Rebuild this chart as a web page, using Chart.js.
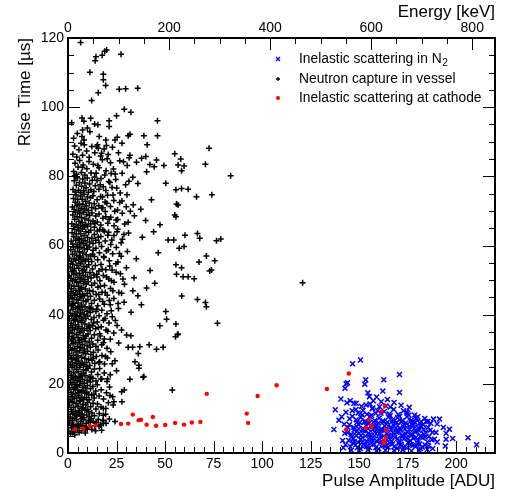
<!DOCTYPE html>
<html>
<head>
<meta charset="utf-8">
<script src="https://cdn.jsdelivr.net/npm/chart.js@4"></script>
<style>
  body { margin: 0; background: #fff; }
</style>
</head>
<body>
<canvas id="myChart" width="510" height="490"></canvas>
<script>
// axis ranges and tick labels
var xTicks = [0, 25, 50, 75, 100, 125, 150, 175, 200]
var yTicks = [0, 20, 40, 60, 80, 100, 120]
var energyTicks = [0, 200, 400, 600, 800]
var xMax = 220
var yMax = 120
var energyMax = 845   // keV at the right edge (about 3.84 keV / ADU)

// [pulse amplitude ADU, rise time us]
var cathode = [
  [3.6,6.9],[7.9,7.0],[11.0,7.8],[14.4,8.0],[27.3,8.4],[31.0,8.5],[33.4,11.1],[36.4,9.5],[37.6,9.6],
  [40.5,8.2],[43.7,10.4],[45.4,7.9],[50.1,8.1],[55.2,8.7],[59.8,8.2],[63.8,8.8],[68.2,9.0],[71.5,17.1],
  [92.1,11.4],[92.8,8.7],[97.7,16.5],[107.5,19.6],[133.4,18.5],[144.7,23.0],[143.3,6.8],[155.0,9.6],
  [153.5,7.2],[156.2,7.9],[156.5,7.6],[161.5,12.0],[163.2,13.7],[163.9,6.6],[163.7,4.6],[162.6,3.5],[162.7,2.8]
]

var inelasticN2 = [
  [145.5,1.8],[148.2,2.4],[150.6,1.3],[152.9,2.1],[155.3,1.6],[157.8,2.5],[160.1,1.2],[162.4,2.2],[164.9,1.7],
  [167.2,2.6],[169.6,1.4],[171.9,2.0],[174.4,1.5],[176.8,2.4],[179.1,1.9],[181.5,1.3],[184.0,2.3],
  [144.6,3.6],[147.0,4.2],[149.4,3.1],[151.7,4.4],[154.1,3.3],[156.5,4.0],[158.9,3.5],[161.2,4.5],[163.6,3.2],
  [166.0,3.9],[168.4,4.6],[170.7,3.4],[173.1,4.1],[175.5,3.0],[177.9,4.3],[180.3,3.7],[182.6,4.4],[185.2,3.2],[187.5,3.8],
  [145.9,5.4],[148.6,6.1],[150.9,5.0],[153.3,6.4],[155.6,5.3],[158.0,6.0],[160.4,5.6],[162.8,6.5],[165.1,5.1],
  [167.5,5.8],[169.9,6.3],[172.3,5.2],[174.7,6.1],[177.0,5.5],[179.4,6.4],[181.8,5.0],[184.3,5.9],[186.6,6.6],
  [147.3,7.4],[149.7,8.2],[152.1,7.1],[154.5,8.5],[156.8,7.6],[159.2,8.1],[161.6,7.0],[164.0,8.3],[166.3,7.5],
  [168.7,8.6],[171.1,7.2],[173.5,8.0],[175.9,7.7],[178.2,8.4],[180.6,7.3],[183.0,8.2],
  [148.5,9.6],[150.9,10.3],[153.2,9.2],[155.6,10.6],[158.0,9.4],[160.3,10.1],[162.7,9.0],[165.1,10.4],[167.4,9.7],
  [169.8,10.2],[172.2,9.3],[174.6,10.5],[177.0,9.5],[179.4,10.0],[181.9,9.1],
  [146.8,2.9],[149.1,1.6],[151.5,3.0],[153.8,1.9],[156.2,2.8],[158.6,1.5],[161.0,3.0],[163.4,2.0],[165.7,2.9],
  [168.1,1.8],[170.5,2.8],[172.9,1.6],[175.3,3.0],[177.7,2.2],[180.1,2.9],[182.5,1.7],[185.1,1.0],
  [146.1,4.7],[148.5,5.0],[150.8,4.0],[153.2,4.9],[155.5,4.5],[157.9,5.0],[160.3,4.1],[162.7,4.9],[165.0,4.4],
  [167.4,5.0],[169.8,4.2],[172.2,4.8],[174.6,4.3],[176.9,5.0],[179.3,4.5],[181.7,4.8],[184.0,4.6],
  [147.4,6.7],[149.8,7.0],[152.2,6.5],[154.6,7.0],[157.0,6.8],[159.3,7.2],[161.7,6.6],[164.1,7.1],[166.5,6.7],
  [168.9,7.2],[171.2,6.6],[173.6,7.0],[176.0,6.8],[178.4,7.1],[180.8,6.5],[183.2,6.8],[185.5,7.4],
  [150.3,8.8],[152.7,9.0],[155.1,8.6],[157.5,8.9],[159.9,8.7],[162.2,9.3],[164.6,8.9],[167.0,9.1],[169.4,8.8],
  [171.7,9.0],[174.1,8.7],[176.5,9.2],[178.9,8.8],[181.3,8.6],
  [146.0,0.8],[150.0,0.7],[154.5,0.9],[159.0,0.6],[163.5,0.8],[168.0,0.7],[172.5,0.9],[177.0,0.6],[181.0,0.8],
  [147.5,3.3],[152.3,2.6],[157.1,3.6],[162.0,2.7],[166.8,3.4],[171.6,2.5],[176.4,3.5],[181.2,2.6],
  [150.0,5.8],[154.9,5.7],[159.7,6.3],[164.5,5.6],[169.3,6.0],[174.1,5.5],[178.9,6.0],[183.5,5.4],
  [148.8,8.8],[153.6,7.8],[158.4,7.5],[163.2,7.8],[168.0,7.9],[172.8,7.6],[177.6,8.0],[182.0,7.7],
  [151.6,11.0],[156.4,10.9],[161.2,11.5],[166.0,10.8],[170.8,10.6],[175.6,10.9],[180.2,10.5],
  [146.5,10.6],[145.0,8.2],[144.0,5.9],[186.0,4.8],[187.8,6.0],[183.8,10.0],[157.0,13.0],[163.8,13.6],[159.5,12.3],
  [149.5,11.6],[152.0,12.3],[154.0,11.2],[156.8,12.8],[158.6,11.5],[160.5,13.4],[163.0,12.0],[165.5,11.3],
  [167.8,12.6],[170.2,11.1],[172.8,12.2],[175.0,11.5],[178.5,11.0],[151.2,13.5],[155.6,14.2],[161.4,14.8],
  [166.1,13.3],[148.3,12.6],[157.3,15.1],[153.6,13.9],
  [143.7,14.5],[145.4,15.1],[147.3,14.4],[148.5,14.4],[140.6,15.6],[137.7,12.5],[137.0,6.8],[139.6,9.5],
  [141.0,10.5],[142.3,8.3],[143.2,11.8],[141.5,3.6],[142.6,5.7],[143.0,2.4],[144.2,7.4],[145.1,9.9],[146.4,12.2],[141.9,1.5],
  [150.7,26.9],[146.6,25.8],[144.0,20.3],[143.3,20.0],[142.7,18.7],[170.8,22.7],[153.4,21.2],[152.9,19.9],
  [162.7,21.2],[162.2,17.9],[170.8,17.5],[171.6,13.8],[154.5,17.4],[155.3,16.3],[164.6,15.5],[174.5,11.9],
  [179.5,9.8],[184.5,9.1],[185.4,9.1],[188.3,9.8],[191.4,9.8],[193.4,7.4],[196.5,6.9],[194.8,5.7],[194.8,4.0],
  [198.2,4.2],[206.1,4.4],[210.5,2.4],[194.4,2.0],[185.7,2.0],[188.8,4.0],[168.0,14.6],[159.0,16.2],[175.8,13.2],
  [186.9,8.6],[189.6,5.9],[190.2,8.4],[190.2,3.2],[187.9,1.3]
]

var neutronCapture = [
  // 5-10 us
  [0.4,6.3],[0.9,8.7],[1.3,5.6],[1.7,7.4],[2.2,9.3],[2.6,6.1],[3.0,8.2],[3.5,5.3],[3.9,7.0],[4.3,9.6],
  [4.8,6.6],[5.2,8.4],[5.7,5.9],[6.1,7.7],[6.6,9.1],[7.0,6.4],[7.5,8.0],[8.0,9.7],[8.4,7.1],[8.9,5.8],
  [9.4,8.6],[9.9,6.9],[10.5,9.4],[11.0,7.6],[11.6,8.9],[12.3,6.8],[13.0,9.2],[13.8,7.9],[14.7,8.8],[15.6,9.7],
  [16.8,8.1],[18.1,9.5],[19.6,8.6],[21.3,9.8],[0.2,9.8],[2.4,7.9],[4.6,7.3],[6.9,9.9],[9.2,7.4],[11.9,9.9],
  [18.2,9.3],[18.2,8.5],[24.2,9.1],[17.3,6.6],[14.2,6.4],[16.0,7.7],
  // 10-15
  [0.3,11.2],[0.8,13.8],[1.2,10.4],[1.6,12.6],[2.1,14.7],[2.5,11.5],[2.9,13.2],[3.3,10.1],[3.8,12.1],[4.2,14.3],
  [4.6,10.9],[5.1,13.5],[5.5,11.8],[6.0,14.9],[6.4,10.6],[6.9,12.9],[7.3,11.3],[7.8,14.1],[8.2,10.2],[8.7,12.4],
  [9.1,13.9],[9.6,11.0],[10.1,14.6],[10.6,12.0],[11.1,10.5],[11.7,13.4],[12.3,11.6],[12.9,14.4],[13.6,10.8],[14.4,12.7],
  [15.2,14.2],[16.1,11.4],[17.0,13.3],[18.2,10.9],[19.5,12.9],[20.8,14.5],[23.7,14.8],[23.3,13.9],[18.2,12.9],[27.8,14.8],
  [1.9,11.9],[4.0,11.1],[5.8,12.3],[7.6,13.0],[9.9,12.6],[19.4,11.2],
  // 15-20
  [0.2,16.4],[0.7,18.9],[1.1,15.3],[1.5,17.6],[2.0,19.8],[2.4,16.2],[2.8,18.4],[3.2,15.7],[3.7,17.1],[4.1,19.3],
  [4.5,15.9],[5.0,18.2],[5.4,16.6],[5.9,19.6],[6.3,15.2],[6.8,17.8],[7.2,16.1],[7.7,19.0],[8.1,15.5],[8.6,17.3],
  [9.0,18.8],[9.5,16.0],[10.0,19.5],[10.5,17.0],[11.0,15.4],[11.6,18.6],[12.2,16.8],[12.8,19.2],[13.5,15.9],[14.3,17.9],
  [15.1,19.7],[16.0,16.5],[17.1,18.3],[18.3,15.6],[19.8,17.4],[21.4,19.1],[27.6,17.7],[29.0,18.2],[23.0,16.3],
  [1.8,17.0],[3.5,18.9],[5.6,17.5],[7.9,18.1],[9.7,17.6],[53.7,18.2],[21.6,16.6],[13.4,16.9],
  // 20-25
  [0.3,21.1],[0.8,23.6],[1.2,20.4],[1.7,22.5],[2.1,24.7],[2.6,21.4],[3.0,23.2],[3.4,20.3],[3.9,22.1],[4.3,24.2],
  [4.8,20.9],[5.2,23.5],[5.7,21.8],[6.1,24.8],[6.6,20.6],[7.0,22.9],[7.5,21.3],[7.9,24.1],[8.4,20.2],[8.8,22.4],
  [9.3,23.9],[9.8,21.0],[10.3,24.5],[10.9,22.0],[11.5,20.5],[12.1,23.4],[12.8,21.6],[13.6,24.3],[14.4,20.8],[15.3,22.7],
  [16.3,24.4],[17.4,21.5],[18.7,23.1],[20.1,20.7],[21.8,22.6],[31.9,21.3],[38.7,21.9],[39.1,22.1],[25.0,23.8],
  [1.9,21.9],[4.1,21.6],[6.3,22.2],[8.1,23.0],[11.8,21.9],[16.9,21.4],[20.4,21.4],
  // 25-30
  [0.2,26.3],[0.7,28.8],[1.1,25.5],[1.5,27.6],[2.0,29.7],[2.4,26.1],[2.9,28.3],[3.3,25.2],[3.7,27.0],[4.2,29.2],
  [4.6,25.8],[5.1,28.1],[5.5,26.6],[6.0,29.6],[6.4,25.4],[6.9,27.7],[7.3,26.0],[7.8,29.0],[8.2,25.6],[8.7,27.3],
  [9.1,28.7],[9.6,26.2],[10.1,29.4],[10.6,27.1],[11.2,25.3],[11.8,28.5],[12.4,26.8],[13.1,29.1],[13.8,25.9],[14.6,27.9],
  [15.5,29.8],[16.4,26.4],[17.5,28.2],[18.8,25.7],[20.3,27.5],[22.0,29.3],[24.2,26.7],[36.5,25.4],[36.5,24.5],[34.5,26.4],
  [36.2,28.8],[1.8,27.2],[4.4,27.5],[9.4,25.1],[12.9,27.4],[22.8,25.8],[19.3,27.9],[15.9,26.2],
  // 30-35
  [0.3,31.2],[0.8,33.7],[1.2,30.5],[1.7,32.4],[2.1,34.6],[2.6,31.6],[3.0,33.3],[3.4,30.2],[3.9,32.0],[4.3,34.3],
  [4.8,30.8],[5.2,33.4],[5.7,31.9],[6.1,34.8],[6.6,30.4],[7.0,32.8],[7.5,31.4],[7.9,34.0],[8.4,30.1],[8.8,32.3],
  [9.3,33.8],[9.8,31.0],[10.3,34.4],[10.9,32.1],[11.5,30.6],[12.1,33.2],[12.8,31.5],[13.6,34.2],[14.4,30.9],[15.3,32.6],
  [16.3,34.5],[17.4,31.3],[18.7,33.0],[20.1,30.3],[21.8,32.9],[23.6,34.7],[31.0,30.6],[33.3,30.6],[37.0,30.7],[41.8,31.3],
  [45.6,30.0],[49.0,30.6],[32.4,33.9],[30.2,34.1],[55.4,33.6],[56.4,34.2],[26.1,31.8],[2.3,32.9],[5.9,32.5],[8.6,33.1],
  [18.2,31.9],
  // 35-40
  [0.2,36.3],[0.7,38.8],[1.1,35.4],[1.6,37.5],[2.0,39.6],[2.5,36.2],[2.9,38.3],[3.3,35.7],[3.8,37.1],[4.2,39.3],
  [4.7,35.9],[5.1,38.2],[5.6,36.6],[6.0,39.5],[6.5,35.3],[6.9,37.8],[7.4,36.1],[7.8,39.0],[8.3,35.5],[8.7,37.3],
  [9.2,38.9],[9.7,36.0],[10.2,39.6],[10.8,37.0],[11.4,35.4],[12.0,38.6],[12.7,36.8],[13.4,39.2],[14.2,35.9],[15.1,37.9],
  [16.0,39.7],[17.1,36.5],[18.3,38.4],[19.6,35.6],[21.1,37.6],[22.8,39.4],[25.3,36.9],[27.6,35.6],[55.6,37.3],[50.8,38.7],
  [47.3,36.8],[56.7,34.4],[77.0,37.5],[1.4,36.9],[3.6,38.6],[7.1,38.4],[11.1,36.4],
  [13.2,37.6],[16.6,33.8],[19.1,38.9],[20.5,35.2],[24.4,38.3],[15.7,36.3],
  // 40-45
  [0.3,41.2],[0.8,43.7],[1.2,40.4],[1.7,42.5],[2.1,44.6],[2.6,41.5],[3.0,43.3],[3.4,40.2],[3.9,42.0],[4.3,44.3],
  [4.8,40.8],[5.2,43.4],[5.7,41.9],[6.1,44.8],[6.6,40.5],[7.0,42.8],[7.5,41.4],[7.9,44.0],[8.4,40.1],[8.8,42.3],
  [9.3,43.8],[9.8,41.0],[10.3,44.4],[10.9,42.1],[11.5,40.6],[12.1,43.2],[12.8,41.5],[13.6,44.2],[14.4,40.9],[15.3,42.6],
  [16.3,44.5],[17.4,41.3],[18.7,43.0],[20.1,40.3],[21.8,42.9],[23.6,44.7],[26.0,41.8],[28.9,43.6],[32.5,40.7],[50.4,40.9],
  [66.7,44.4],[70.8,43.5],[71.3,42.3],[58.6,45.4],[37.8,42.9],[2.3,42.9],[5.4,42.3],[11.7,41.8],
  [14.8,41.6],[17.9,43.8],[22.3,41.1],[21.3,44.1],[25.8,43.2],
  // 45-50
  [0.4,46.1],[0.9,48.6],[1.3,45.4],[1.8,47.5],[2.2,49.7],[2.7,46.3],[3.1,48.2],[3.5,45.6],[4.0,47.0],[4.4,49.3],
  [4.9,45.9],[5.3,48.3],[5.8,46.7],[6.2,49.6],[6.7,45.2],[7.1,47.8],[7.6,46.0],[8.0,49.0],[8.5,45.5],[8.9,47.4],
  [9.4,48.9],[9.9,46.1],[10.4,49.5],[11.0,47.0],[11.6,45.3],[12.2,48.5],[12.9,46.7],[13.7,49.1],[14.5,45.8],[15.4,47.9],
  [16.4,49.8],[17.5,46.5],[18.8,48.4],[20.2,45.6],[21.9,47.6],[23.7,49.4],[26.2,46.4],[29.1,48.8],[33.4,46.9],[40.5,47.7],
  [44.7,49.1],[36.0,45.5],[1.6,46.6],[6.4,47.3],[120.9,49.2],
  [16.7,48.2],[23.1,46.9],[22.4,49.8],[28.3,50.3],[15.9,45.8],[19.2,46.4],[27.6,46.2],
  // 50-55
  [0.6,51.2],[1.1,53.7],[1.5,50.5],[2.0,52.4],[2.4,54.6],[2.9,51.6],[3.3,53.3],[3.7,50.2],[4.2,52.0],[4.6,54.3],
  [5.1,50.8],[5.5,53.4],[6.0,51.9],[6.4,54.8],[6.9,50.4],[7.3,52.8],[7.8,51.4],[8.2,54.0],[8.7,50.1],[9.1,52.3],
  [9.6,53.8],[10.1,51.0],[10.7,54.4],[11.3,52.1],[11.9,50.6],[12.6,53.2],[13.3,51.5],[14.1,54.2],[15.0,50.9],[15.9,52.6],
  [17.0,54.5],[18.2,51.3],[19.5,53.0],[21.0,50.3],[22.7,52.9],[24.6,54.7],[27.0,51.8],[30.1,53.6],[34.0,50.7],[55.6,54.4],
  [58.5,53.6],[55.9,51.7],[61.9,51.0],[65.0,50.4],[59.3,51.0],[73.9,52.9],[73.0,52.6],[42.3,52.8],[2.6,52.7],[8.4,52.9],
  [14.8,51.7],[19.9,50.9],[21.5,54.1],[24.8,52.3],[17.6,53.1],[25.7,55.2],
  // 55-60
  [0.9,56.3],[1.4,58.8],[1.8,55.4],[2.3,57.5],[2.7,59.6],[3.2,56.2],[3.6,58.3],[4.0,55.7],[4.5,57.1],[4.9,59.3],
  [5.4,55.9],[5.8,58.2],[6.3,56.6],[6.7,59.5],[7.2,55.3],[7.6,57.8],[8.1,56.1],[8.5,59.0],[9.0,55.5],[9.4,57.3],
  [9.9,58.9],[10.4,56.0],[11.0,59.6],[11.6,57.0],[12.2,55.4],[12.9,58.6],[13.6,56.8],[14.4,59.2],[15.3,55.9],[16.2,57.9],
  [17.3,59.7],[18.5,56.5],[19.8,58.4],[21.3,55.6],[23.0,57.6],[24.9,59.4],[27.4,56.9],[30.6,58.3],[35.2,56.2],[71.3,57.0],
  [67.5,55.2],[75.6,55.6],[57.3,59.2],[59.8,59.7],[46.5,57.9],[6.0,57.0],[12.6,57.5],
  [18.4,56.8],[26.5,57.7],[20.7,58.8],
  // 60-65
  [1.6,61.2],[2.1,63.7],[2.5,60.4],[3.0,62.5],[3.4,64.6],[3.9,61.5],[4.3,63.3],[4.7,60.2],[5.2,62.0],[5.6,64.3],
  [6.1,60.8],[6.5,63.4],[7.0,61.9],[7.4,64.8],[7.9,60.5],[8.3,62.8],[8.8,61.4],[9.2,64.0],[9.7,60.1],[10.1,62.3],
  [10.6,63.8],[11.1,61.0],[11.7,64.4],[12.3,62.1],[12.9,60.6],[13.6,63.2],[14.3,61.5],[15.1,64.2],[16.0,60.9],[16.9,62.6],
  [18.0,64.5],[19.2,61.3],[20.5,63.0],[22.0,60.3],[23.7,62.9],[25.6,64.7],[28.0,61.8],[31.2,63.6],[54.5,61.6],[51.6,61.6],
  [60.3,63.0],[66.7,63.5],[67.9,62.1],[76.5,61.4],[78.7,61.9],[38.3,62.4],[44.1,64.0],[5.8,61.8],
  [15.6,62.4],[18.7,64.1],[22.6,61.6],[25.3,64.0],[27.4,60.8],[20.9,63.8],[16.4,64.6],[28.8,63.2],
  // 65-70
  [2.0,66.3],[2.5,68.8],[2.9,65.5],[3.4,67.6],[3.8,69.7],[4.3,66.1],[4.7,68.3],[5.1,65.2],[5.6,67.0],[6.0,69.2],
  [6.5,65.8],[6.9,68.1],[7.4,66.6],[7.8,69.6],[8.3,65.4],[8.7,67.7],[9.2,66.0],[9.6,69.0],[10.1,65.6],[10.6,67.3],
  [11.1,68.7],[11.7,66.2],[12.3,69.4],[12.9,67.1],[13.6,65.3],[14.3,68.5],[15.1,66.8],[16.0,69.1],[16.9,65.9],[18.0,67.9],
  [19.2,69.8],[20.5,66.4],[22.0,68.2],[23.7,65.7],[25.6,67.5],[28.0,69.3],[31.0,66.7],[34.2,68.6],[55.0,68.8],[55.6,68.3],
  [40.0,67.2],[47.4,66.0],
  [13.9,66.4],[21.2,67.6],[24.1,69.9],[29.2,66.2],[19.5,68.3],[24.8,67.4],[32.1,69.9],
  // 70-75
  [2.3,71.1],[2.8,73.6],[3.2,70.4],[3.7,72.5],[4.1,74.6],[4.6,71.5],[5.0,73.3],[5.5,70.2],[5.9,72.0],[6.4,74.3],
  [6.8,70.8],[7.3,73.4],[7.7,71.9],[8.2,74.8],[8.6,70.5],[9.1,72.8],[9.5,71.4],[10.0,74.0],[10.5,70.1],[11.0,72.3],
  [11.6,73.8],[12.2,71.0],[12.8,74.4],[13.5,72.1],[14.2,70.6],[15.0,73.2],[15.9,71.5],[16.8,74.2],[17.9,70.9],[19.1,72.6],
  [20.4,74.5],[21.9,71.3],[23.6,73.0],[25.5,70.3],[27.8,72.9],[30.4,74.7],[33.6,71.8],[55.9,72.0],[56.7,71.7],[66.2,74.1],
  [74.1,74.7],[43.0,73.2],[37.5,70.5],
  [17.3,70.9],[20.0,72.2],[26.6,72.4],[30.0,71.2],[17.8,74.0],[23.2,74.6],
  // 75-80
  [2.6,76.2],[3.2,78.7],[3.7,75.5],[4.3,77.4],[4.8,79.6],[5.4,76.0],[5.9,78.2],[6.5,75.3],[7.0,77.1],[7.6,79.2],
  [8.1,75.8],[8.7,78.1],[9.3,76.7],[9.9,79.5],[10.5,75.4],[11.1,77.8],[11.8,76.1],[12.5,78.9],[13.3,75.6],[14.1,77.3],
  [15.0,78.8],[15.9,76.3],[17.0,79.4],[18.2,77.0],[19.5,75.9],[21.0,78.5],[22.7,76.8],[24.6,79.1],[26.9,75.2],[29.7,77.6],
  [50.4,78.0],[55.6,76.1],[58.5,76.5],[61.9,76.3],[36.0,77.9],[33.4,79.7],[4.0,79.9],
  [13.7,79.8],[16.6,77.6],[21.6,78.2],[25.1,76.6],[31.4,78.6],
  // 80-90
  [2.9,81.4],[3.6,83.8],[4.4,80.6],[5.2,82.7],[6.0,84.6],[6.9,81.1],[7.8,83.3],[8.7,80.4],[9.7,82.2],[10.8,84.3],
  [11.9,81.0],[13.1,83.5],[14.5,80.9],[16.0,82.5],[17.7,84.8],[19.6,81.6],[21.9,83.9],[24.3,80.7],[42.2,83.4],[45.6,84.7],
  [49.4,83.1],[40.5,81.3],[44.4,82.8],[30.5,83.1],[35.3,84.1],[26.7,84.5],[55.0,86.5],[58.1,85.0],[56.7,83.3],[59.8,83.0],
  [70.8,83.5],[58.5,81.6],[83.8,80.2],[3.5,80.2],[7.4,82.6],
  [15.4,83.1],[18.9,80.4],[20.2,85.1],[23.4,82.1],[27.9,80.9],[22.2,80.8],[28.6,84.2],
  [2.5,86.4],[3.4,88.8],[4.5,85.6],[5.6,87.7],[6.7,89.6],[7.5,86.1],[9.6,87.3],[10.9,85.5],[12.3,88.6],[13.8,86.8],
  [15.2,89.1],[16.8,85.9],[18.6,87.9],[20.7,86.3],[22.9,88.4],[8.4,89.1],[14.8,88.6],[15.6,88.1],[27.8,89.6],[31.5,85.4],
  [31.9,86.1],[37.9,85.2],[40.1,85.7],[40.8,89.1],[72.7,88.1],[26.0,86.8],[19.8,88.9],[17.3,86.7],
  // 90-120
  [8.2,90.5],[19.5,90.5],[24.2,90.5],[7.5,93.4],[11.3,92.9],[7.2,91.5],[16.1,91.5],[25.4,91.3],[31.0,91.7],[31.9,92.2],
  [39.1,91.7],[46.1,91.7],[46.1,96.1],[7.2,96.9],[8.2,95.9],[11.7,96.8],[13.7,95.1],[15.4,94.9],[21.2,96.1],[21.2,94.4],
  [1.9,95.5],[25.0,97.5],[29.0,99.4],[32.4,98.5],[12.2,101.9],[26.4,105.2],[29.7,105.3],[35.9,105.5],[15.6,104.2],[19.4,106.3],
  [18.2,107.9],[18.2,109.5],[11.3,110.1],[14.0,113.4],[14.4,114.6],[17.6,115.0],[18.9,116.2],[19.9,116.5],[27.3,115.3],[6.5,118.7],
  [4.8,92.4],[10.0,94.0],[2.9,91.0]
]

var legendLabels = ['Inelastic scattering in N', 'Neutron capture in vessel', 'Inelastic scattering at cathode']

function toXY(list) {
  return list.map(function (p) { return { x: p[0], y: p[1] } })
}

Chart.defaults.font.family = '"Liberation Sans", Arial, sans-serif'
Chart.defaults.color = '#000'

// ROOT style frame: ticks drawn inward on all four sides
var frameTicks = {
  id: 'frameTicks',
  afterDraw: function (chart) {
    var c = chart.ctx
    var a = chart.chartArea
    var sx = chart.scales.x, sy = chart.scales.y, se = chart.scales.energy
    c.save()
    c.strokeStyle = '#000'
    c.lineWidth = 1
    var v, p, len
    for (v = 0; v <= xMax; v += 5) {
      p = Math.round(sx.getPixelForValue(v)) + 0.5
      len = v % 25 === 0 ? 12 : 6
      c.beginPath(); c.moveTo(p, a.bottom); c.lineTo(p, a.bottom - len); c.stroke()
    }
    for (v = 0; v <= energyMax; v += 50) {
      p = Math.round(se.getPixelForValue(v)) + 0.5
      len = v % 200 === 0 ? 12 : 6
      c.beginPath(); c.moveTo(p, a.top); c.lineTo(p, a.top + len); c.stroke()
    }
    for (v = 0; v <= yMax; v += 5) {
      p = Math.round(sy.getPixelForValue(v)) + 0.5
      len = v % 20 === 0 ? 12 : 6
      c.beginPath(); c.moveTo(a.left, p); c.lineTo(a.left + len, p); c.stroke()
      c.beginPath(); c.moveTo(a.right, p); c.lineTo(a.right - len, p); c.stroke()
    }
    c.lineWidth = 2
    c.strokeRect(a.left, a.top, a.right - a.left, a.bottom - a.top)
    c.restore()
  }
}

var rootLegend = {
  id: 'rootLegend',
  afterDraw: function (chart) {
    var c = chart.ctx
    var mx = 278, tx = 299, rows = [59, 79, 98]
    var font = '13.8px "Liberation Sans", Arial, sans-serif'
    c.save()
    c.textBaseline = 'middle'
    c.textAlign = 'left'
    c.fillStyle = '#000'
    c.font = font
    // row 1: blue x
    c.strokeStyle = '#0000ff'; c.lineWidth = 1.3
    c.beginPath(); c.moveTo(mx - 2, rows[0] - 2); c.lineTo(mx + 2, rows[0] + 2)
    c.moveTo(mx - 2, rows[0] + 2); c.lineTo(mx + 2, rows[0] - 2); c.stroke()
    c.fillText(legendLabels[0], tx, rows[0])
    var w = c.measureText(legendLabels[0]).width
    c.font = '10px "Liberation Sans", Arial, sans-serif'
    c.fillText('2', tx + w + 0.5, rows[0] + 4)
    c.font = font
    // row 2: black +
    c.strokeStyle = '#000'; c.lineWidth = 1.3
    c.beginPath(); c.moveTo(mx - 2, rows[1]); c.lineTo(mx + 2, rows[1])
    c.moveTo(mx, rows[1] - 2); c.lineTo(mx, rows[1] + 2); c.stroke()
    c.fillText(legendLabels[1], tx, rows[1])
    // row 3: red dot
    c.fillStyle = '#ff0000'
    c.beginPath(); c.arc(mx, rows[2], 2, 0, Math.PI * 2); c.fill()
    c.fillStyle = '#000'
    c.fillText(legendLabels[2], tx, rows[2])
    c.restore()
  }
}

var ctx = document.getElementById('myChart')

var chart = new Chart(ctx, {
  type: 'scatter',
  data: {
    datasets: [{
      label: legendLabels[2],
      data: toXY(cathode),
      pointStyle: 'circle',
      pointRadius: 2.2,
      backgroundColor: '#ff0000',
      borderColor: '#ff0000',
      borderWidth: 0
    }, {
      label: legendLabels[0] + '2',
      data: toXY(inelasticN2),
      pointStyle: 'crossRot',
      pointRadius: 3.5,
      borderColor: '#0000ff',
      borderWidth: 1.5
    }, {
      label: legendLabels[1],
      data: toXY(neutronCapture),
      pointStyle: 'cross',
      pointRadius: 3,
      borderColor: '#000000',
      borderWidth: 1.5
    }]
  },
  options: {
    responsive: false,
    animation: false,
    events: [],
    layout: { padding: { right: 15, left: 0, top: 0, bottom: 0 } },
    plugins: { legend: { display: false }, tooltip: { enabled: false } },
    scales: {
      x: {
        type: 'linear', position: 'bottom', min: 0, max: xMax,
        grid: { display: false, drawTicks: false }, border: { display: false },
        afterBuildTicks: function (s) { s.ticks = xTicks.map(function (v) { return { value: v } }) },
        afterFit: function (s) { s.height = 37 },
        ticks: { font: { size: 14 }, padding: 3, maxRotation: 0, autoSkip: false },
        title: { display: true, text: 'Pulse Amplitude [ADU]', align: 'end', font: { size: 17, lineHeight: 1 }, padding: 0 }
      },
      energy: {
        type: 'linear', axis: 'x', position: 'top', min: 0, max: energyMax,
        grid: { display: false, drawTicks: false }, border: { display: false },
        afterBuildTicks: function (s) { s.ticks = energyTicks.map(function (v) { return { value: v } }) },
        afterFit: function (s) { s.height = 38 },
        ticks: { font: { size: 14 }, padding: 1, maxRotation: 0, autoSkip: false },
        title: { display: true, text: 'Energy [keV]', align: 'end', font: { size: 17, lineHeight: 1 }, padding: { top: 4, bottom: 0 } }
      },
      y: {
        type: 'linear', position: 'left', min: 0, max: yMax,
        grid: { display: false, drawTicks: false }, border: { display: false },
        afterBuildTicks: function (s) { s.ticks = yTicks.map(function (v) { return { value: v } }) },
        afterFit: function (s) { s.width = 68 },
        ticks: { font: { size: 14 }, padding: 4, autoSkip: false },
        title: { display: true, text: 'Rise Time [µs]', align: 'end', font: { size: 17, lineHeight: 1 }, padding: { top: 17, bottom: 0 } }
      }
    }
  },
  plugins: [frameTicks, rootLegend]
})
</script>
</body>
</html>
